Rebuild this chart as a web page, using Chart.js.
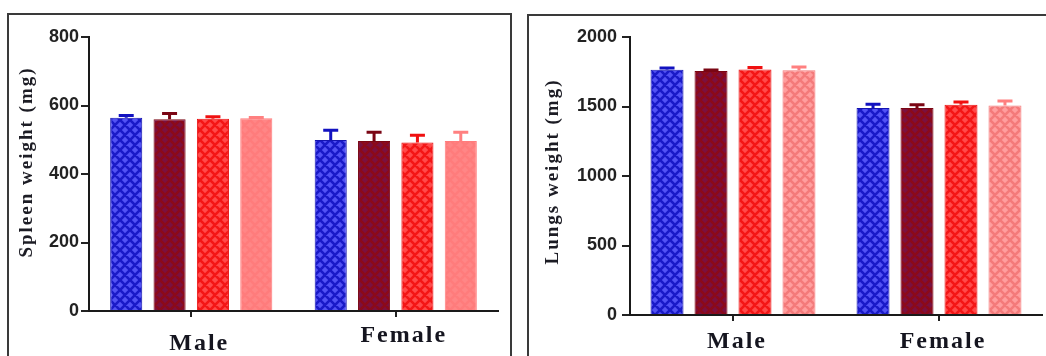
<!DOCTYPE html>
<html><head><meta charset="utf-8">
<script src="https://cdn.jsdelivr.net/npm/chart.js@4.4.1/dist/chart.umd.min.js"></script>
<style>
html,body{margin:0;padding:0;background:#fff;width:1046px;height:356px;overflow:hidden;position:relative}
.box{position:absolute;border:2px solid #3a3a3a;box-sizing:border-box}
#b1{left:7px;top:13px;width:505px;height:400px}
#b2{left:527px;top:14px;width:560px;height:400px}
.cw{position:absolute;top:0;height:356px}
#w1{left:0;width:520px}
#w2{left:520px;width:526px}
canvas{display:block}
</style></head><body>
<div class="box" id="b1"></div><div class="box" id="b2"></div>
<div class="cw" id="w1"><canvas id="c1" width="520" height="356"></canvas></div>
<div class="cw" id="w2"><canvas id="c2" width="526" height="356"></canvas></div>
<script>
// ---- data ----
const categories = ['Male', 'Female'];

const spleenTicks = [0, 200, 400, 600, 800];
const spleenBlue = [564, 499];
const spleenBlueErr = [7, 29];
const spleenDarkRed = [560, 496];
const spleenDarkRedErr = [17, 26];
const spleenRed = [561, 492];
const spleenRedErr = [6, 21];
const spleenPink = [563, 496];
const spleenPinkErr = [2, 26];

const lungsTicks = [0, 500, 1000, 1500, 2000];
const lungsBlue = [1765, 1490];
const lungsBlueErr = [12, 26];
const lungsDarkRed = [1755, 1490];
const lungsDarkRedErr = [8, 22];
const lungsRed = [1767, 1512];
const lungsRedErr = [13, 20];
const lungsPink = [1760, 1508];
const lungsPinkErr = [24, 32];

// ---- styles ----
function hatch(light, dark, size, lw) {
  const c = document.createElement('canvas');
  c.width = c.height = size;
  const g = c.getContext('2d');
  g.fillStyle = light; g.fillRect(0, 0, size, size);
  g.strokeStyle = dark; g.lineWidth = lw;
  g.beginPath();
  for (const o of [-size, 0, size]) {
    g.moveTo(o, 0); g.lineTo(o + size, size);
    g.moveTo(o + size, 0); g.lineTo(o, size);
  }
  g.stroke();
  return g.createPattern(c, 'repeat');
}

const errorBars = {
  id: 'errorBars',
  afterDatasetsDraw(chart) {
    const ctx = chart.ctx, ys = chart.scales.y;
    chart.data.datasets.forEach((ds, i) => {
      const meta = chart.getDatasetMeta(i);
      meta.data.forEach((el, j) => {
        const top = ys.getPixelForValue(ds.data[j] + ds.errors[j]);
        ctx.save();
        ctx.strokeStyle = ds.errColor; ctx.lineWidth = 3;
        ctx.beginPath();
        ctx.moveTo(el.x, el.y); ctx.lineTo(el.x, top);
        ctx.moveTo(el.x - 7.5, top); ctx.lineTo(el.x + 7.5, top);
        ctx.stroke();
        ctx.restore();
      });
    });
  }
};

function wrapSpacing(scale, method, spacing, dy) {
  if (scale['_ls_' + method]) return;
  const orig = scale[method];
  scale[method] = function (...a) {
    const c = this.ctx;
    c.save();
    c.letterSpacing = spacing;
    if (dy) c.translate(0, dy);
    try { return orig.apply(this, a); } finally { c.restore(); }
  };
  scale['_ls_' + method] = true;
}

function makeChart(id, cfg) {
  const spacingPlugin = {
    id: 'spacing',
    beforeDraw(chart) {
      wrapSpacing(chart.scales.y, 'drawTitle', '2px', cfg.titleShift);
      wrapSpacing(chart.scales.x, 'drawLabels', '2px', 0);
    }
  };
  const ds = (label, data, errs, light, dark, edge, errColor) => ({
    label, data, errors: errs, errColor,
    backgroundColor: hatch(light, dark, 10, 2.6),
    borderColor: edge, borderWidth: 1,
    barPercentage: cfg.barPct, categoryPercentage: cfg.catPct
  });
  return new Chart(document.getElementById(id), {
    type: 'bar',
    data: {
      labels: categories,
      datasets: [
        ds('blue', cfg.series[0], cfg.errs[0], '#5252f4', '#1a1ac8', '#1414b0', '#1212c0'),
        ds('darkred', cfg.series[1], cfg.errs[1], '#7a1040', '#8c0a1a', '#7a0612', '#7a0614'),
        ds('red', cfg.series[2], cfg.errs[2], '#ff4a4a', '#f41616', '#e81010', '#f01010'),
        ds('pink', cfg.series[3], cfg.errs[3], cfg.pinkLight, cfg.pinkDark, cfg.pinkDark, '#ff8080')
      ]
    },
    options: {
      responsive: false, animation: false,
      layout: { padding: { left: 0, top: cfg.top, right: cfg.right, bottom: 0 } },
      plugins: { legend: { display: false }, tooltip: { enabled: false } },
      scales: {
        x: {
          offset: true,
          grid: { offset: false, drawOnChartArea: false, drawTicks: true, tickLength: 6, color: '#222', lineWidth: 2 },
          border: { display: true, color: '#1a1a1a', width: 2 },
          ticks: {
            labelOffset: cfg.labelOffset, padding: cfg.xPad, color: '#15151f',
            font: (c) => ({ family: "'Liberation Serif', 'Times New Roman', serif", size: 24, weight: 'bold',
                            lineHeight: c.index === 0 ? cfg.maleLH : 1.1 })
          },
          afterFit(s) { s.height = cfg.xHeight; }
        },
        y: {
          min: cfg.ticks[0], max: cfg.ticks[cfg.ticks.length - 1],
          afterBuildTicks(s) { s.ticks = cfg.ticks.map(v => ({ value: v })); },
          ticks: { color: '#222', padding: cfg.yPad, callback: (v) => String(v),
                   font: { family: "'Liberation Sans', Arial, sans-serif", size: 18, weight: 'bold' } },
          grid: { drawOnChartArea: false, drawTicks: true, tickLength: 8, color: '#222', lineWidth: 2 },
          border: { display: true, color: '#1a1a1a', width: 2 },
          title: { display: true, text: cfg.title, color: '#1c1c24',
                   font: { family: "'Liberation Serif', 'Times New Roman', serif", size: 19, weight: 'bold' },
                   padding: { top: cfg.titlePad, bottom: 0 } },
          afterFit(s) { s.width = cfg.yWidth; }
        }
      }
    },
    plugins: [errorBars, spacingPlugin]
  });
}

makeChart('c1', {
  series: [spleenBlue, spleenDarkRed, spleenRed, spleenPink],
  errs: [spleenBlueErr, spleenDarkRedErr, spleenRedErr, spleenPinkErr],
  ticks: spleenTicks, title: 'Spleen weight (mg)',
  top: 37, right: 22, xHeight: 45, yWidth: 89, yPad: 2, xPad: 6, labelOffset: 8, maleLH: 1.75,
  titlePad: 15.6, titleShift: -12, barPct: 0.74, catPct: 0.848,
  pinkLight: '#ff8686', pinkDark: '#ff7c7c'
});

makeChart('c2', {
  series: [lungsBlue, lungsDarkRed, lungsRed, lungsPink],
  errs: [lungsBlueErr, lungsDarkRedErr, lungsRedErr, lungsPinkErr],
  ticks: lungsTicks, title: 'Lungs weight (mg)',
  top: 37, right: 4, xHeight: 41, yWidth: 110, yPad: 5, xPad: 8, labelOffset: 4, maleLH: 1.1,
  titlePad: 21.6, titleShift: -4.5, barPct: 0.75, catPct: 0.854,
  pinkLight: '#ff9e9e', pinkDark: '#f47a7a'
});
</script>
</body></html>
